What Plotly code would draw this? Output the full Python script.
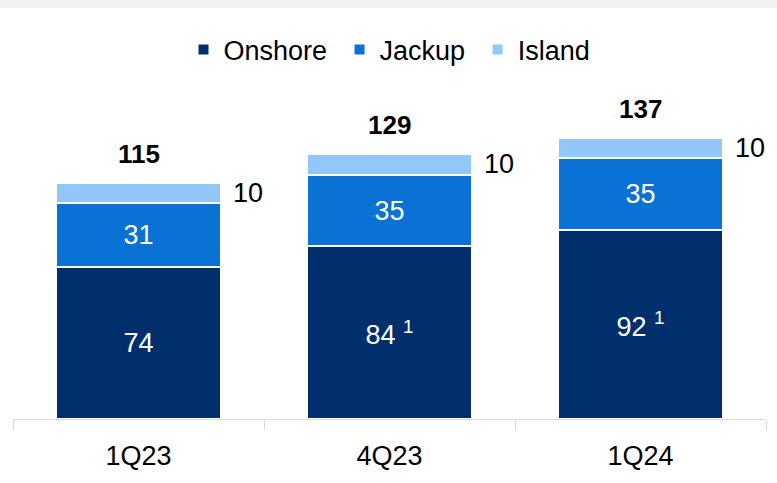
import plotly.graph_objects as go

# Rig count by type, per quarter
quarters = ["1Q23", "4Q23", "1Q24"]
onshore = [74, 84, 92]
jackup = [31, 35, 35]
island = [10, 10, 10]
onshore_notes = ["", "1", "1"]  # footnote markers shown next to onshore values

totals = [o + j + i for o, j, i in zip(onshore, jackup, island)]

FONT = "Liberation Sans, Arial, sans-serif"
FS = 27
C_ONSHORE = "#002F6C"
C_JACKUP = "#0A72D5"
C_ISLAND = "#92C7FA"

onshore_text = [
    f"{v} <sup>{n}</sup>" if n else f"{v}" for v, n in zip(onshore, onshore_notes)
]

PAD = "\u00a0"  # a little breathing room between legend entries

fig = go.Figure()
fig.add_bar(
    name="Onshore" + PAD, x=quarters, y=onshore, marker_color=C_ONSHORE,
    marker_line=dict(color="white", width=2),
    text=onshore_text, textposition="inside", insidetextanchor="middle",
    textfont=dict(color="white", size=FS, family=FONT),
    hoverinfo="skip",
)
fig.add_bar(
    name="Jackup" + PAD, x=quarters, y=jackup, marker_color=C_JACKUP,
    marker_line=dict(color="white", width=2),
    text=[str(v) for v in jackup], textposition="inside", insidetextanchor="middle",
    textfont=dict(color="white", size=FS, family=FONT),
    hoverinfo="skip",
)
fig.add_bar(
    name="Island", x=quarters, y=island, marker_color=C_ISLAND,
    marker_line=dict(color="white", width=2),
    hoverinfo="skip",
)

# Island values sit to the right of each bar
for q, o, j, i in zip(quarters, onshore, jackup, island):
    fig.add_annotation(
        x=q, y=o + j + i / 2, text=str(i), showarrow=False,
        xanchor="left", yanchor="middle", xshift=92,
        font=dict(size=FS, color="black", family=FONT),
    )

# Bold totals above each stack
for q, t in zip(quarters, totals):
    fig.add_annotation(
        x=q, y=t, text=f"<b>{t}</b>", showarrow=False,
        xanchor="center", yanchor="bottom", yshift=12,
        font=dict(size=26, color="black", family=FONT),
    )

# Thin grey band across the top edge
fig.add_shape(
    type="rect", xref="paper", yref="paper",
    x0=-0.1, x1=1.1, y0=1 + 82 / 329, y1=1 + 95 / 329,
    fillcolor="#F2F2F2", line_width=0, layer="below",
)

fig.update_layout(
    width=777, height=483,
    barmode="stack", bargap=0.343,
    paper_bgcolor="white", plot_bgcolor="white",
    margin=dict(l=13, r=11, t=90, b=64),
    font=dict(family=FONT, size=FS, color="black"),
    showlegend=True,
    legend=dict(
        orientation="h", x=0.5, xanchor="center", y=1 + 40 / 329, yanchor="middle",
        traceorder="normal", font=dict(size=FS, family=FONT),
        itemwidth=30, itemclick=False, itemdoubleclick=False,
    ),
    xaxis=dict(
        range=[-0.5, 2.5], showline=True, linecolor="#D9D9D9", linewidth=1,
        ticks="outside", tickson="boundaries", ticklen=10, tickcolor="#D9D9D9",
        ticklabelstandoff=13,
        tickfont=dict(size=FS, family=FONT), showgrid=False, fixedrange=True,
    ),
    yaxis=dict(range=[0, 160.2], visible=False, fixedrange=True),
    uniformtext=dict(minsize=FS, mode="show"),
)

fig.write_html("out.html", config={"displayModeBar": False})
